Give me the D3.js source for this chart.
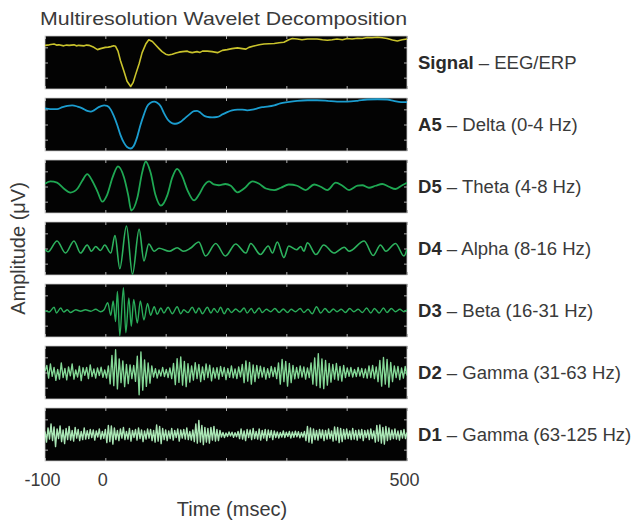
<!DOCTYPE html>
<html>
<head>
<meta charset="utf-8">
<script src="https://cdn.jsdelivr.net/npm/d3@7"></script>
<style>
    body { margin: 0; background: #fff; }
    text { font-family: "Liberation Sans", Arial, sans-serif; fill: #3a3a3a; }
</style>
</head>
<body>
<svg id="chart" width="637" height="521"></svg>
<script>
// time axis (msec)
var xTicks = [-100, 0, 500];
var xMinorTicks = [-100, 0, 100, 200, 300, 400, 500];
var yTicks = [-6, 0, 6];

var panelNames = ['Signal', 'A5', 'D5', 'D4', 'D3', 'D2', 'D1'];
var panelBands = ['EEG/ERP', 'Delta (0-4 Hz)', 'Theta (4-8 Hz)', 'Alpha (8-16 Hz)',
    'Beta (16-31 Hz)', 'Gamma (31-63 Hz)', 'Gamma (63-125 Hz)'];

// [time, amplitude]
var signal = [[-100,6.8],[-93,7.0],[-85,7.3],[-81,6.9],[-77,7.0],[-69,6.6],[-64,6.9],[-60,6.8],[-52,7.0],[-48,6.6],
    [-44,6.8],[-35,6.6],[-31,6.9],[-27,6.8],[-19,6.0],[-13,5.1],[-8,5.5],[0,6.0],[5,6.1],[9,6.3],[14,6.6],[17,6.4],
    [21,4.5],[25,0.8],[31,-3.6],[36,-7.4],[42,-9.5],[46,-8.0],[50,-4.9],[56,-0.5],[61,3.9],[67,7.3],[72,9.0],
    [78,8.3],[83,7.0],[89,5.5],[94,4.3],[100,3.3],[105,3.0],[111,3.3],[117,3.8],[122,4.1],[128,4.3],[136,4.5],
    [140,4.1],[144,3.9],[152,4.3],[157,4.0],[161,4.5],[169,4.5],[177,4.3],[186,3.9],[194,4.8],[202,5.1],[210,5.5],
    [219,5.8],[227,5.5],[233,5.3],[238,6.0],[246,6.5],[255,7.0],[263,7.3],[271,7.4],[280,7.5],[288,7.8],[296,8.0],
    [304,9.0],[310,9.5],[318,9.3],[326,9.0],[335,9.3],[343,9.3],[351,9.3],[360,9.0],[368,8.8],[376,9.0],[384,9.3],
    [393,9.0],[401,9.5],[409,9.3],[418,9.6],[426,9.5],[434,9.9],[442,9.8],[451,10.0],[459,9.8],[467,9.5],[476,8.9],
    [484,8.5],[492,9.0],[500,9.3]];

var a5 = [[-100,6.4],[-91,6.1],[-80,6.1],[-71,6.9],[-63,7.4],[-55,7.6],[-46,7.1],[-38,6.4],[-30,5.4],[-24,5.1],
    [-19,5.6],[-11,6.9],[-2,7.6],[3,7.4],[9,5.9],[14,3.4],[20,-0.4],[25,-4.1],[31,-7.3],[36,-8.9],[42,-9.5],
    [47,-8.5],[53,-4.8],[58,-0.4],[64,4.0],[69,7.1],[75,8.6],[81,9.1],[86,8.6],[92,7.1],[97,4.6],[103,2.1],
    [108,0.9],[114,0.3],[119,0.4],[125,1.1],[130,2.1],[139,3.9],[147,5.3],[152,5.4],[158,4.6],[163,3.6],[169,3.0],
    [177,2.8],[186,3.0],[194,4.0],[202,4.9],[210,5.6],[219,5.9],[227,5.9],[235,5.6],[244,5.9],[252,6.4],[260,6.9],
    [268,7.1],[280,7.6],[290,8.4],[302,8.9],[318,9.4],[335,9.6],[351,9.6],[368,9.4],[384,9.1],[401,9.1],[418,9.4],
    [434,9.9],[451,10.0],[467,9.9],[478,9.4],[490,8.9],[500,8.9]];

var d5 = [[-100,1.1],[-91,2.0],[-80,1.5],[-69,-0.8],[-58,-2.4],[-46,-0.8],[-38,2.4],[-30,4.9],[-22,2.4],[-13,-2.0],
    [-5,-6.0],[3,-3.3],[12,3.6],[21,8.0],[31,3.6],[38,-3.5],[43,-9.5],[53,-4.5],[61,5.5],[67,9.9],[75,5.5],
    [83,-3.3],[92,-7.6],[103,-3.3],[111,3.6],[119,7.0],[127,4.3],[136,-1.4],[147,-5.5],[155,-3.3],[164,0.5],
    [172,2.0],[180,0.8],[188,0.5],[199,1.0],[208,0.3],[219,-2.3],[230,-0.8],[244,2.0],[255,1.1],[266,-0.8],
    [280,-1.4],[291,-0.5],[304,0.8],[318,0.3],[332,-1.4],[346,0.8],[357,-0.1],[368,-1.4],[382,1.5],[393,0.3],
    [404,-1.4],[418,0.3],[426,0.5],[437,-0.5],[448,0.3],[459,1.0],[470,-0.1],[481,-1.0],[492,0.5],[500,1.5]];

var d4 = [[-100,-0.3],[-95,-1.3],[-80,3.0],[-66,-1.8],[-52,3.0],[-41,-1.8],[-30,1.4],[-23,-1.1],[-16,0.8],
    [-8,-0.8],[-1,1.4],[9,-1.8],[16,5.1],[24,-8.0],[35,8.9],[45,-10.2],[56,7.6],[64,-4.9],[72,1.8],[81,-1.1],
    [89,0.1],[106,-1.1],[119,0.3],[130,-1.1],[141,0.1],[155,2.6],[166,-3.0],[183,2.0],[199,-3.0],[216,1.8],
    [233,-1.8],[241,2.0],[257,-2.4],[270,1.0],[277,-1.8],[285,2.6],[296,-3.6],[304,1.0],[317,-0.5],[324,0.8],
    [329,-1.1],[335,2.3],[349,-2.4],[362,1.4],[379,-1.8],[396,0.5],[404,-1.1],[429,3.0],[444,-2.8],[456,1.4],
    [465,-1.1],[481,2.0],[495,-3.0],[500,-0.3]];

var d3Band = [[-100,0],[-93,-0.6],[-85,1.3],[-81,-1.0],[-74,1.0],[-69,-0.6],[-63,0.3],[-58,-0.8],[-49,0.3],
    [-41,-0.3],[-33,0.3],[-24,-0.3],[-16,0.5],[-8,-0.5],[-2,0.3],[4,3.1],[9,-1.9],[13,3.8],[17,-4.4],[20,7.5],
    [24,-10.0],[30,9.0],[34,-8.8],[39,5.0],[43,-6.3],[47,4.4],[53,-5.0],[58,3.8],[64,-3.8],[70,2.8],[75,-1.9],
    [81,1.5],[86,-1.5],[92,1.0],[97,-1.0],[104,1.3],[111,-1.3],[119,1.5],[125,-1.3],[130,0.3],[137,-0.8],
    [144,1.3],[150,-1.0],[155,1.0],[161,-1.3],[169,1.3],[175,-1.0],[180,0.8],[186,-0.8],[191,1.3],[197,-1.3],
    [203,0.8],[209,-0.8],[216,0.6],[223,-0.6],[230,1.0],[235,-1.0],[242,0.8],[247,-1.0],[255,1.0],[260,-0.8],
    [267,0.5],[274,-0.5],[281,0.8],[288,-0.8],[295,0.6],[302,-0.8],[308,0.5],[315,-0.5],[323,0.8],[329,-0.8],
    [336,0.5],[343,-1.3],[350,1.5],[357,-1.0],[364,0.8],[371,-0.8],[378,0.6],[384,-0.5],[391,0.5],[398,-0.8],
    [405,0.8],[412,-0.5],[419,0.5],[426,-0.8],[433,1.0],[440,-1.0],[446,0.8],[454,-1.0],[461,1.0],[467,-0.8],
    [474,0.8],[481,-0.5],[488,0.5],[495,-0.5],[500,0.3]];

// D2 / D1: evenly sampled from -100 to 500 msec
var d2 = [0.5,2.8,-2.2,3.4,-1.5,2.0,-3.1,1.2,-2.6,3.8,-2.0,
    1.6,-2.9,2.2,-1.3,3.4,-2.6,1.0,-1.8,2.5,-3.2,1.9,-1.1,2.0,-2.4,3.0,-1.6,1.4,-2.2,
    1.8,-1.2,2.1,-1.9,1.0,-2.2,2.6,
    -4.5,6.8,-5.2,9.0,-6.5,
    5.4,-4.0,4.6,-5.6,3.2,-4.4,3.0,
    -2.4,2.8,-3.5,
    6.5,-8.8,8.2,-7.0,
    5.0,-5.5,3.8,-4.2,2.6,
    -1.8,1.5,-2.2,1.0,-1.4,2.0,-1.6,1.2,-2.0,1.8,-2.4,
    3.6,-4.8,5.5,-3.9,6.2,-5.0,4.4,-5.6,3.5,
    -3.8,2.6,-3.0,3.9,-2.4,3.2,-3.6,2.2,-2.8,3.4,-2.0,2.9,-3.3,1.8,
    -2.2,1.9,-2.6,2.4,-1.5,2.0,-2.8,1.6,-1.9,2.6,-2.1,1.4,-2.4,2.2,-1.7,
    3.2,-4.0,4.6,-3.4,4.0,-4.6,3.0,-3.6,2.8,
    -2.2,2.5,-1.8,2.0,-2.6,1.5,-2.0,2.4,-1.6,2.0,-2.4,
    3.8,-4.6,5.2,-3.6,4.4,-5.4,3.6,-4.0,2.8,
    -2.5,2.0,-2.2,2.6,-1.8,2.2,-2.6,1.8,-2.0,
    3.8,-4.6,5.8,-5.2,7.5,-6.0,5.4,-6.4,4.8,-5.0,3.6,-3.8,
    3.2,-2.6,3.6,-3.0,2.4,-3.4,2.8,-2.0,
    1.8,-1.5,2.0,-1.8,1.2,-1.6,2.0,-1.4,1.6,-2.0,1.4,
    -2.2,2.6,-2.0,2.8,-2.4,2.2,
    -3.6,4.8,-5.4,6.0,-4.6,5.2,-5.8,4.0,-3.6,
    2.6,-2.0,2.4,-2.8,1.8,-2.2,2.4,-1.2];

var d1 = [1.2,-3.0,2.6,-1.8,4.2,-2.4,3.0,-4.8,2.2,-1.6,3.4,-2.8,1.8,-3.6,2.4,-2.0,3.2,
    -2.2,1.6,-2.6,2.8,-1.4,2.0,-2.4,1.2,-2.0,2.6,-1.8,1.5,
    -1.6,2.0,-1.2,1.8,-2.2,1.4,-1.0,2.2,-1.8,1.2,-1.5,2.0,
    -3.2,3.6,-2.8,3.4,-3.8,2.6,
    -2.0,1.6,-2.4,2.2,-1.4,2.8,-2.0,1.2,-1.8,2.4,-2.6,1.6,-1.2,2.0,-2.2,2.6,-1.6,1.8,-2.8,1.4,-1.8,2.2,-1.4,2.0,-2.4,1.6,
    -3.0,3.8,-2.6,3.2,-3.6,2.4,
    -2.0,1.8,-2.4,1.4,-1.6,2.4,-2.2,1.6,-1.2,2.2,-2.6,1.8,-1.4,2.0,-1.8,2.6,-2.0,1.2,-2.2,1.8,
    -2.8,4.2,-3.4,5.6,-3.0,3.6,-4.0,2.8,
    -3.0,2.4,-3.4,2.8,-2.2,3.2,-2.6,2.0,-2.4,1.6,
    -1.0,0.8,-1.2,0.6,-0.8,1.0,-0.6,0.9,-1.1,0.7,-0.9,1.2,
    -1.6,2.2,-1.8,1.4,-2.4,2.0,-1.2,1.8,-2.0,2.4,-1.6,1.2,-1.8,2.2,-2.2,1.6,-1.4,2.0,-2.4,1.8,-1.2,1.6,-2.0,1.4,
    -1.2,1.0,-1.4,0.8,-1.0,1.4,-1.2,0.9,-0.8,1.2,-1.4,1.0,-1.1,1.3,-0.9,1.1,-1.3,0.8,-1.0,1.2,
    -2.4,3.2,-3.0,2.6,-3.4,2.2,
    -2.0,1.6,-2.2,2.0,-1.4,1.8,-2.4,1.6,-1.8,2.2,-1.6,1.4,
    -2.6,3.0,-2.2,2.8,-3.2,2.4,-2.8,2.0,
    -1.8,2.2,-1.6,1.4,-2.0,2.4,-1.8,1.6,-2.2,1.8,-1.4,2.0,-2.4,1.6,-1.2,1.8,-2.0,2.2,-1.6,1.4,
    -3.0,3.6,-2.6,3.8,-3.4,2.8,-3.8,3.2,-2.4,2.6,
    -2.0,1.8,-1.6,2.2,-1.8,1.4,-2.2,1.6,-1.4,2.0,-1.6,0.8];

function evenlySampled(values) {
    var t = d3.scaleLinear().domain([0, values.length - 1]).range([-100, 500]);
    return values.map(function (v, i) { return [t(i), v]; });
}

var series = [signal, a5, d5, d4, d3Band, evenlySampled(d2), evenlySampled(d1)];
var colors = ['#c9c32c', '#1b9dcf', '#1fa853', '#2db25e', '#2aac5a', '#84d896', '#aae6b5'];
var widths = [1.6, 1.8, 1.8, 1.6, 1.4, 1.35, 1.4];
var curves = [d3.curveLinear, d3.curveMonotoneX, d3.curveMonotoneX, d3.curveMonotoneX,
    d3.curveMonotoneX, d3.curveLinear, d3.curveLinear];

var svg = d3.select('#chart');
var left = 45, right = 407, top0 = 36, step = 62, panelH = 53;

var x = d3.scaleLinear().domain([-100, 500]).range([left, right]);

svg.append('text')
    .attr('x', 40).attr('y', 25)
    .attr('font-size', 19)
    .attr('fill', '#444')
    .attr('textLength', 367).attr('lengthAdjust', 'spacingAndGlyphs')
    .text('Multiresolution Wavelet Decomposition');

series.forEach(function (data, i) {
    var top = top0 + i * step, bottom = top + panelH;
    var y = d3.scaleLinear().domain([-10.5, 10.5]).range([bottom, top]);
    var g = svg.append('g');

    g.append('clipPath').attr('id', 'clip' + i)
        .append('rect').attr('x', left).attr('y', top).attr('width', right - left).attr('height', panelH);

    g.append('rect')
        .attr('x', left).attr('y', top).attr('width', right - left).attr('height', panelH)
        .attr('fill', '#030303').attr('stroke', '#c8c8c8').attr('stroke-width', 0.8);

    // inner ticks all round, like matlab
    var axes = [
        [d3.axisTop(x).tickValues(xMinorTicks), 'translate(0,' + top + ')'],
        [d3.axisBottom(x).tickValues(xMinorTicks), 'translate(0,' + bottom + ')'],
        [d3.axisLeft(y).tickValues(yTicks), 'translate(' + left + ',0)'],
        [d3.axisRight(y).tickValues(yTicks), 'translate(' + right + ',0)']
    ];
    axes.forEach(function (a) {
        var ag = g.append('g').attr('transform', a[1])
            .call(a[0].tickSize(-3).tickFormat(''));
        ag.select('.domain').remove();
        ag.selectAll('line').attr('stroke', '#b0b0b0');
    });

    var line = d3.line()
        .x(function (d) { return x(d[0]); })
        .y(function (d) { return y(d[1]); })
        .curve(curves[i]);

    g.append('path')
        .datum(data)
        .attr('clip-path', 'url(#clip' + i + ')')
        .attr('fill', 'none')
        .attr('stroke', colors[i])
        .attr('stroke-width', widths[i])
        .attr('stroke-linejoin', 'round')
        .attr('d', line);

    var label = g.append('text')
        .attr('transform', 'translate(418,' + (top + panelH / 2 + 6.3) + ') scale(1.06,1)')
        .attr('font-size', 17.5);
    label.append('tspan').attr('font-weight', 'bold').attr('fill', '#2a2a2a').text(panelNames[i]);
    label.append('tspan').text(' \u2013 ' + panelBands[i]);
});

var lastBottom = top0 + 6 * step + panelH;
var xAxis = svg.append('g')
    .attr('transform', 'translate(-3,' + lastBottom + ')')
    .call(d3.axisBottom(x).tickValues(xTicks).tickSize(0).tickPadding(12).tickFormat(String));
xAxis.select('.domain').remove();
xAxis.selectAll('text')
    .attr('font-size', 18)
    .attr('font-family', '"Liberation Sans", Arial, sans-serif')
    .attr('fill', '#3a3a3a');

svg.append('text')
    .attr('x', (left + right) / 2 + 6).attr('y', 516)
    .attr('text-anchor', 'middle')
    .attr('font-size', 20)
    .text('Time (msec)');

svg.append('text')
    .attr('transform', 'translate(25,' + ((top0 + lastBottom) / 2) + ') rotate(-90)')
    .attr('text-anchor', 'middle')
    .attr('font-size', 20)
    .text('Amplitude (\u03bcV)');
</script>
</body>
</html>
